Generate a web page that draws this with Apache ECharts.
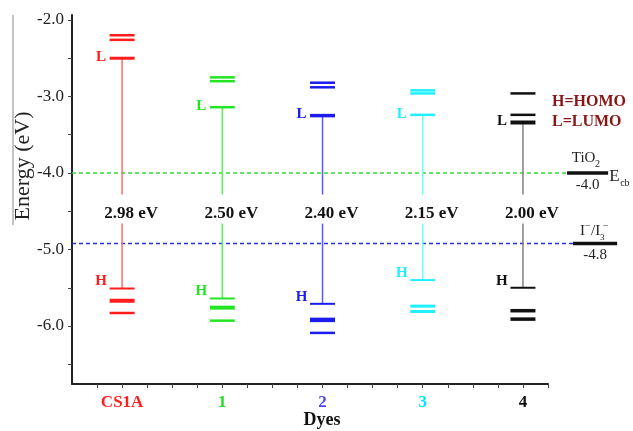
<!DOCTYPE html>
<html>
<head>
<meta charset="utf-8">
<script src="https://cdn.jsdelivr.net/npm/echarts@6/dist/echarts.min.js"></script>
<style>
  html, body { margin: 0; padding: 0; background: #fff; }
  #main { width: 633px; height: 431px; }
</style>
</head>
<body>
<div id="main"></div>
<script>
// 数据
var dyes = ['CS1A', '1', '2', '3', '4'];
var lumo = [-2.50, -3.14, -3.25, -3.24, -3.34];
var homo = [-5.51, -5.64, -5.71, -5.40, -5.50];
var upperLevels = [[-2.20, -2.26], [-2.75, -2.80], [-2.82, -2.88], [-2.92, -2.96], [-2.96, -3.24]];
var lowerLevels = [[-5.67, -5.83], [-5.76, -5.93], [-5.92, -6.09], [-5.74, -5.81], [-5.80, -5.91]];
var gapLabels = ['2.98 eV', '2.50 eV', '2.40 eV', '2.15 eV', '2.00 eV'];
var refEnergy = [-4.0, -4.92];      // TiO2 Ecb, I-/I3- (as drawn)
var refValueLabels = ['-4.0', '-4.8'];
var yLabelValues = [-6, -5, -4, -3, -2];
var yTickValues = [-6.5, -6, -5.5, -5, -4.5, -4, -3.5, -3, -2.5, -2];
var xTickValues = [0.75, 1, 1.25, 1.5, 1.75, 2, 2.25, 2.5, 2.75, 3, 3.25, 3.5, 3.75, 4, 4.25, 4.5, 4.75, 5, 5.25];

// 样式
var serif = 'Liberation Serif';
var levelColors = ['#ff1c1c', '#22e622', '#1c1cee', '#1ff0ff', '#111111'];
var stemColors = ['#ff6e6e', '#55f055', '#5a5aff', '#66ffff', '#808080'];
var labelColors = ['#ff2020', '#22dd22', '#4a4aee', '#00e5ff', '#111111'];
var lumoWidth = [3, 2.5, 3.5, 2.5, 4];
var upperWidths = [[2.5, 2.5], [2.5, 2.5], [2.5, 2.5], [2.5, 2.5], [2.5, 2.5]];
var lowerWidths = [[4, 2.5], [4, 2.5], [4.5, 2.5], [3, 3], [3.5, 3.5]];
var gapTextY = -4.53;

function renderDye(params, api) {
    var i = params.dataIndex;
    var x = api.value(0);
    var c = levelColors[i];
    var pL = api.coord([x, lumo[i]]);
    var pH = api.coord([x, homo[i]]);
    var pT = api.coord([x, gapTextY]);
    var half = 12.5;
    var kids = [];
    function level(e, w) {
        var y = api.coord([x, e])[1];
        kids.push({ type: 'line', shape: { x1: pL[0] - half, y1: y, x2: pL[0] + half, y2: y },
            style: { stroke: c, lineWidth: w } });
    }
    // 竖线（中间留出文字空隙）
    kids.push({ type: 'line', shape: { x1: pL[0], y1: pL[1], x2: pL[0], y2: pT[1] - 19 },
        style: { stroke: stemColors[i], lineWidth: 1.5 } });
    kids.push({ type: 'line', shape: { x1: pL[0], y1: pT[1] + 10, x2: pL[0], y2: pH[1] },
        style: { stroke: stemColors[i], lineWidth: 1.5 } });
    upperLevels[i].forEach(function (e, k) { level(e, upperWidths[i][k]); });
    lowerLevels[i].forEach(function (e, k) { level(e, lowerWidths[i][k]); });
    level(lumo[i], lumoWidth[i]);
    level(homo[i], 2);
    kids.push({ type: 'text', style: { text: 'L', x: pL[0] - 21, y: pL[1] - 1, align: 'center', verticalAlign: 'middle',
        font: 'bold 15px ' + serif, fill: c } });
    kids.push({ type: 'text', style: { text: 'H', x: pH[0] - 21, y: pH[1] - 7, align: 'center', verticalAlign: 'middle',
        font: 'bold 15px ' + serif, fill: c } });
    kids.push({ type: 'text', style: { text: gapLabels[i], x: pT[0] + 9, y: pT[1], align: 'center', verticalAlign: 'middle',
        font: 'bold 17px ' + serif, fill: '#111' } });
    return { type: 'group', children: kids };
}

// 参考线: [虚线起点, 虚线终点/实线起点, 实线终点]
var refSpans = [[0.5, 5.44, 5.85], [0.5, 5.50, 5.94]];
var refDashColors = ['#33dd33', '#2233dd'];

function renderRef(params, api) {
    var i = params.dataIndex;
    var e = api.value(0);
    var s = refSpans[i];
    var a = api.coord([s[0], e]), b = api.coord([s[1], e]), d = api.coord([s[2], e]);
    var mid = (b[0] + d[0]) / 2;
    var kids = [
        { type: 'line', shape: { x1: a[0], y1: a[1], x2: b[0], y2: b[1] },
          style: { stroke: refDashColors[i], lineWidth: 1.5, lineDash: [4, 3] } },
        { type: 'line', shape: { x1: b[0], y1: b[1], x2: d[0], y2: d[1] },
          style: { stroke: '#111', lineWidth: 3.5 } },
        { type: 'text', style: { text: refValueLabels[i], x: mid, y: b[1] + 12, align: 'center', verticalAlign: 'middle',
          font: '15px ' + serif, fill: '#222' } }
    ];
    if (i === 0) {
        kids.push({ type: 'text', style: { text: 'TiO', x: mid - 4, y: b[1] - 15, align: 'center', verticalAlign: 'middle',
            font: '15px ' + serif, fill: '#222' } });
        kids.push({ type: 'text', style: { text: '2', x: mid + 10, y: b[1] - 9, align: 'center', verticalAlign: 'middle',
            font: '10px ' + serif, fill: '#222' } });
        kids.push({ type: 'text', style: { text: 'E', x: d[0] + 1, y: b[1] + 4, align: 'left', verticalAlign: 'middle',
            font: '17px ' + serif, fill: '#222' } });
        kids.push({ type: 'text', style: { text: 'cb', x: d[0] + 12, y: b[1] + 10, align: 'left', verticalAlign: 'middle',
            font: '10px ' + serif, fill: '#222' } });
    } else {
        kids.push({ type: 'text', style: { text: 'I', x: mid - 15, y: b[1] - 12, align: 'left', verticalAlign: 'middle',
            font: '15px ' + serif, fill: '#222' } });
        kids.push({ type: 'text', style: { text: '\u2212', x: mid - 10, y: b[1] - 17, align: 'left', verticalAlign: 'middle',
            font: '10px ' + serif, fill: '#222' } });
        kids.push({ type: 'text', style: { text: '/I', x: mid - 4, y: b[1] - 12, align: 'left', verticalAlign: 'middle',
            font: '15px ' + serif, fill: '#222' } });
        kids.push({ type: 'text', style: { text: '3', x: mid + 5, y: b[1] - 6, align: 'left', verticalAlign: 'middle',
            font: '9px ' + serif, fill: '#222' } });
        kids.push({ type: 'text', style: { text: '\u2212', x: mid + 8, y: b[1] - 17, align: 'left', verticalAlign: 'middle',
            font: '10px ' + serif, fill: '#222' } });
    }
    return { type: 'group', children: kids };
}

var xRich = {};
labelColors.forEach(function (col, i) {
    xRich['d' + i] = { color: col, fontFamily: serif, fontWeight: 'bold', fontSize: 17 };
});

var chart = echarts.init(document.getElementById('main'));
var option = {
    animation: false,
    grid: { left: 72, right: 85, top: 15, bottom: 47, containLabel: false, outerBoundsMode: 'none' },
    xAxis: {
        type: 'value',
        min: 0.5,
        max: 5.25,
        splitLine: { show: false },
        axisLine: { lineStyle: { color: '#222', width: 2 } },
        axisTick: { customValues: xTickValues, length: 4, lineStyle: { color: '#444', width: 1 } },
        axisLabel: {
            customValues: [1, 2, 3, 4, 5],
            margin: 10,
            formatter: function (v) {
                var i = Math.round(v) - 1;
                return '{d' + i + '|' + dyes[i] + '}';
            },
            rich: xRich
        }
    },
    yAxis: {
        type: 'value',
        min: -6.758,
        max: -1.935,
        splitLine: { show: false },
        axisLine: { lineStyle: { color: '#222', width: 2 } },
        axisTick: { customValues: yTickValues, length: 4, lineStyle: { color: '#444' } },
        axisLabel: {
            customValues: yLabelValues,
            margin: 8,
            formatter: function (v) { return v.toFixed(1); },
            fontFamily: serif,
            fontSize: 17,
            color: '#222'
        }
    },
    graphic: [
        { type: 'line', shape: { x1: 13, y1: 15, x2: 13, y2: 225 }, style: { stroke: '#888', lineWidth: 1 } },
        { type: 'text', x: 23, y: 166, rotation: Math.PI / 2,
          style: { text: 'Energy (eV)', align: 'center', verticalAlign: 'middle', font: '22px ' + serif, fill: '#222' } },
        { type: 'text', x: 322, y: 420,
          style: { text: 'Dyes', align: 'center', verticalAlign: 'middle', font: 'bold 18px ' + serif, fill: '#111' } },
        { type: 'text', x: 552, y: 102,
          style: { text: 'H=HOMO', align: 'left', verticalAlign: 'middle', font: 'bold 16px ' + serif, fill: '#8b1414' } },
        { type: 'text', x: 552, y: 122,
          style: { text: 'L=LUMO', align: 'left', verticalAlign: 'middle', font: 'bold 16px ' + serif, fill: '#8b1414' } }
    ],
    series: [
        {
            type: 'custom',
            clip: false,
            renderItem: renderRef,
            encode: { x: -1, y: 0 },
            data: refEnergy.map(function (e) { return [e]; }),
            z: 2
        },
        {
            type: 'custom',
            clip: false,
            renderItem: renderDye,
            encode: { x: 0, y: 1 },
            data: dyes.map(function (d, i) { return [i + 1, homo[i], lumo[i]]; }),
            z: 3
        }
    ]
};
chart.setOption(option);
</script>
</body>
</html>
